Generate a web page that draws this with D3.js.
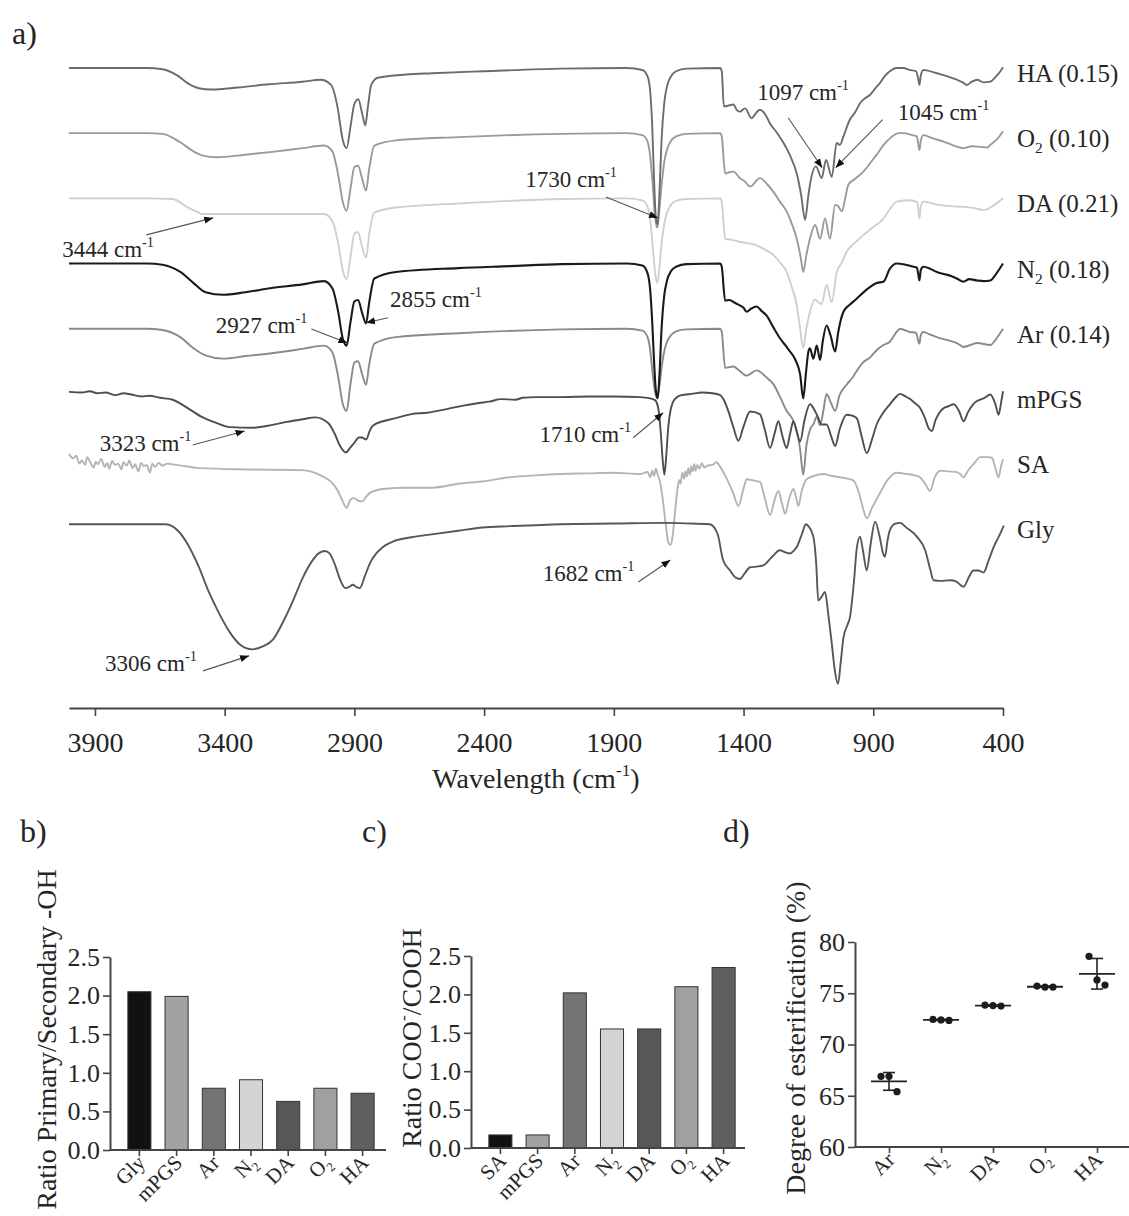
<!DOCTYPE html>
<html>
<head>
<meta charset="utf-8">
<script src="https://cdn.jsdelivr.net/npm/d3@7"></script>
<style>
  body { margin: 0; background: #fff; }
  svg { display: block; font-family: "Liberation Serif", "Times New Roman", serif; }
</style>
</head>
<body>
<svg id="fig" width="1129" height="1216"></svg>
<script>
// ---------------- FTIR spectra: [wavenumber (cm-1), transmittance change (a.u.)] ----------------
const spectrumNames = ["HA", "O2", "DA", "N2", "Ar", "mPGS", "SA", "Gly"];
const spectrumTags  = ["(0.15)", "(0.10)", "(0.21)", "(0.18)", "(0.14)", "", "", ""];
const stackOffsets  = [70, 60, 50, 40, 30, 20, 10, 0];

const haSpectrum = [[4000,0],[3700,0],[3640,-0.2],[3580,-1.2],[3540,-2.4],[3500,-3.1],[3450,-3.3],[3350,-3.0],[3230,-2.5],[3100,-2.1],[3030,-1.8],[2990,-2.6],[2965,-6],[2945,-11],[2930,-12.3],[2915,-9],[2900,-5.5],[2885,-4.8],[2870,-7],[2858,-8.8],[2848,-6],[2835,-2.6],[2810,-1.5],[2700,-1.0],[2600,-0.8],[2400,-0.5],[2100,-0.1],[1850,0],[1790,-0.3],[1770,-1.3],[1760,-3.5],[1752,-9],[1745,-17],[1738,-23],[1731,-24],[1724,-19],[1716,-11],[1706,-5.5],[1695,-2.8],[1680,-1.3],[1660,-0.5],[1620,-0.1],[1490,0],[1484,-0.5],[1476,-5.9],[1460,-5.8],[1439,-5.6],[1425,-6.5],[1414,-6.7],[1394,-6.2],[1369,-7.7],[1350,-6.8],[1337,-6.4],[1315,-7.2],[1298,-8.5],[1270,-10],[1246,-11.5],[1220,-13.5],[1195,-16.2],[1178,-19.5],[1163,-23.3],[1150,-19.5],[1141,-17.2],[1121,-15.1],[1099,-16.9],[1082,-14.1],[1060,-16.7],[1041,-11.5],[1028,-11.8],[1015,-10.5],[990,-7.9],[970,-6.8],[951,-5.4],[930,-4.6],[912,-4.1],[890,-3],[874,-2.3],[855,-1.2],[836,-0.5],[810,0],[784,0],[760,-0.3],[735,-0.5],[726,-1.8],[722,-2.6],[717,-1.2],[707,-0.3],[690,-0.4],[655,-0.8],[620,-1.2],[578,-1.8],[555,-2.2],[539,-2.6],[520,-2.1],[500,-1.8],[475,-2.2],[449,-2.1],[425,-1.2],[410,-0.5],[400,0.1]];

const o2Spectrum = [[4000,0],[3700,0],[3640,-0.1],[3571,-1.4],[3520,-2.8],[3488,-3.4],[3432,-3.7],[3320,-3.3],[3225,-2.9],[3100,-2.3],[3017,-1.9],[2985,-2.8],[2962,-6.5],[2945,-10.5],[2930,-11.9],[2915,-8.5],[2900,-5.2],[2886,-5],[2870,-7],[2855,-8.8],[2843,-5.5],[2823,-1.9],[2740,-1.1],[2500,-0.6],[2100,-0.1],[1850,0],[1790,-0.3],[1770,-1.3],[1760,-3.5],[1750,-8],[1742,-12.5],[1733,-14.5],[1725,-12],[1716,-8],[1706,-4.5],[1695,-2.5],[1680,-1.2],[1660,-0.5],[1620,-0.1],[1490,0],[1484,-0.5],[1471,-6.2],[1455,-6],[1439,-5.9],[1414,-6.9],[1395,-7.4],[1375,-8.2],[1337,-6.9],[1310,-7.8],[1285,-9],[1260,-10.5],[1234,-12],[1215,-13.8],[1195,-16.2],[1180,-19],[1170,-21.3],[1157,-18.5],[1144,-16.2],[1124,-14.1],[1105,-16.2],[1086,-13.1],[1067,-16.2],[1047,-11],[1035,-11.2],[1022,-12],[996,-7.9],[970,-7],[938,-5.9],[910,-4.5],[887,-3.3],[860,-1.8],[836,-0.8],[800,0],[784,0],[750,-0.3],[732,-0.5],[726,-1.8],[722,-2.6],[717,-1.2],[707,-0.3],[670,-0.8],[629,-1.3],[590,-1.9],[552,-2.3],[520,-2.0],[488,-2.1],[460,-2.2],[449,-1.8],[420,-0.8],[400,0.3]];

const daSpectrum = [[4000,0],[3700,0],[3600,-0.1],[3543,-1.4],[3500,-2.2],[3488,-2.4],[3300,-2.4],[3100,-2.4],[3017,-2.4],[2985,-3.5],[2962,-7],[2945,-11],[2930,-12.4],[2915,-9],[2900,-5.4],[2886,-5.2],[2870,-7.5],[2855,-9.1],[2843,-5.5],[2823,-2.2],[2740,-1.4],[2500,-0.8],[2100,-0.1],[1850,0],[1790,-0.3],[1770,-1.3],[1760,-3.2],[1750,-7.5],[1742,-11],[1733,-13],[1725,-11],[1716,-7],[1706,-4],[1695,-2.2],[1680,-1],[1660,-0.4],[1620,-0.1],[1490,0],[1484,-0.5],[1471,-6.2],[1440,-6.4],[1414,-6.7],[1380,-6.9],[1350,-7.2],[1320,-7.8],[1285,-8.7],[1260,-9.8],[1234,-11.3],[1215,-13.5],[1195,-16.4],[1182,-20],[1170,-23],[1158,-20],[1144,-17.4],[1125,-15.5],[1112,-15.9],[1099,-16.2],[1080,-13.3],[1060,-15.9],[1041,-11.3],[1020,-9.8],[1003,-8.2],[970,-6.8],[938,-5.6],[900,-4.4],[861,-3.1],[835,-1.6],[810,-0.5],[758,-0.3],[730,-0.6],[726,-1.8],[722,-3.1],[717,-1.2],[707,-0.5],[650,-1],[600,-1.2],[552,-1.3],[510,-1.5],[475,-1.8],[440,-1.2],[400,0]];

const n2Spectrum = [[4000,0],[3700,0],[3640,-0.2],[3571,-1.3],[3520,-3],[3474,-4.4],[3405,-4.8],[3320,-4.4],[3225,-3.8],[3100,-3.2],[3017,-2.7],[2985,-3.8],[2962,-7.5],[2945,-11.5],[2930,-12.6],[2915,-9],[2900,-5.8],[2886,-5.6],[2870,-7.6],[2855,-9.2],[2843,-6],[2823,-2.3],[2740,-1.3],[2500,-0.7],[2300,-0.4],[2100,-0.1],[1850,0],[1790,-0.3],[1770,-1.5],[1760,-4],[1752,-9],[1745,-15],[1738,-19.5],[1731,-20.7],[1724,-17],[1716,-10],[1706,-5],[1695,-2.6],[1680,-1.2],[1660,-0.5],[1620,-0.1],[1490,0],[1484,-0.5],[1471,-5.7],[1455,-5.6],[1439,-5.9],[1420,-6.3],[1400,-6.8],[1388,-7.4],[1370,-6.9],[1350,-6.6],[1330,-7.3],[1311,-8],[1285,-9.8],[1259,-11.5],[1234,-12.8],[1221,-13.5],[1200,-14.8],[1182,-17],[1170,-20.7],[1160,-17],[1150,-13.5],[1144,-13],[1131,-14.6],[1118,-12.6],[1105,-14.8],[1095,-12],[1080,-9.5],[1065,-11],[1047,-13.5],[1035,-10.5],[1015,-7.4],[990,-6.3],[964,-5.4],[940,-4.5],[912,-3.6],[887,-3],[861,-2.8],[836,-0.8],[810,0],[784,-0.1],[745,-0.5],[732,-0.6],[726,-1.8],[722,-2.6],[717,-1.0],[707,-0.5],[681,-0.8],[655,-1.3],[629,-1.6],[600,-1.9],[578,-2.3],[552,-2.8],[530,-2.4],[500,-2.6],[475,-2.7],[449,-2.6],[425,-1.5],[400,0]];

const arSpectrum = [[4000,0],[3700,0],[3640,-0.2],[3571,-1.3],[3520,-3],[3474,-4.1],[3405,-4.6],[3320,-4.2],[3225,-3.8],[3100,-3.1],[3017,-2.6],[2985,-3.6],[2962,-7.5],[2945,-11.5],[2930,-12.6],[2915,-8.5],[2900,-5.2],[2886,-5],[2870,-7],[2855,-8.6],[2843,-5.5],[2823,-2.3],[2740,-1.3],[2500,-0.7],[2100,-0.1],[1850,0],[1790,-0.3],[1770,-1.3],[1760,-3.2],[1750,-7],[1742,-9.5],[1733,-10.6],[1725,-9],[1716,-6],[1706,-3.5],[1695,-2],[1680,-1],[1660,-0.4],[1620,-0.1],[1490,0],[1484,-0.5],[1471,-6],[1439,-5.8],[1420,-6.3],[1388,-7.2],[1350,-6.4],[1311,-7.5],[1285,-8.5],[1259,-10.5],[1234,-12.6],[1210,-14],[1195,-15.7],[1182,-18.5],[1170,-22.4],[1158,-18],[1144,-15.5],[1130,-14.6],[1118,-13.5],[1105,-14.8],[1092,-12.5],[1080,-10],[1065,-11.2],[1047,-12.6],[1030,-10.2],[1003,-8.6],[980,-7.5],[964,-6.5],[940,-5.2],[912,-4.4],[887,-3.3],[861,-2.5],[836,-2],[810,-0.5],[797,0],[760,-0.5],[735,-0.6],[726,-2],[722,-2.3],[717,-1],[707,-0.5],[681,-0.9],[655,-1.3],[610,-1.8],[578,-2.2],[552,-2.8],[525,-2.5],[500,-2.2],[449,-2.5],[420,-1.2],[400,0]];

const mpgsSpectrum = [[4000,0.3],[3950,0.2],[3920,0.4],[3890,0.1],[3860,0.2],[3820,-0.2],[3790,0.1],[3760,-0.1],[3720,-0.4],[3690,-0.3],[3650,-0.6],[3600,-0.9],[3550,-2],[3490,-3.5],[3430,-4.5],[3380,-5.1],[3295,-5.2],[3220,-4.8],[3160,-4.3],[3100,-3.9],[3050,-3.6],[3000,-4.5],[2975,-6.2],[2955,-8],[2933,-9],[2915,-8.2],[2900,-7.5],[2883,-6.7],[2870,-6.7],[2855,-7],[2840,-5.6],[2829,-4.9],[2790,-4.2],[2748,-3.8],[2680,-3.1],[2620,-2.9],[2540,-2.3],[2480,-1.8],[2420,-1.4],[2380,-1.2],[2335,-0.8],[2280,-0.9],[2250,-0.6],[2200,-0.5],[2104,-0.5],[2000,-0.4],[1900,-0.4],[1800,-0.5],[1760,-0.7],[1740,-1],[1728,-2.4],[1720,-5.5],[1712,-10],[1705,-12.4],[1698,-9.5],[1690,-5],[1680,-2.2],[1665,-0.8],[1640,-0.2],[1600,0],[1560,0.2],[1520,0.1],[1490,-0.2],[1478,-0.8],[1460,-2.5],[1440,-5],[1420,-7.2],[1400,-5],[1375,-2.7],[1337,-3.1],[1318,-5.5],[1298,-8.3],[1280,-6],[1266,-4.2],[1250,-6.5],[1234,-8.3],[1220,-6],[1208,-4.2],[1195,-5.8],[1182,-7.3],[1165,-4],[1144,-1.6],[1125,-2.6],[1112,-3.7],[1099,-4.7],[1080,-4.7],[1060,-6.8],[1047,-8],[1030,-5.5],[1003,-3.2],[985,-3.3],[964,-3.7],[945,-6.5],[925,-9.1],[905,-7],[887,-4.7],[860,-2.8],[836,-1.6],[815,-0.6],[797,0],[775,-0.4],[758,-0.8],[740,-1.4],[719,-2.2],[700,-3.8],[685,-5.4],[674,-5.7],[660,-4],[640,-2.6],[629,-2.2],[610,-1.9],[590,-1.6],[570,-2.6],[552,-4.2],[535,-2.8],[515,-1.6],[500,-1.1],[470,-0.6],[449,-0.1],[430,-1.5],[417,-3.2],[408,-1.5],[400,0.4]];

const saSpectrum = [[4000,0.8],[3985,0.1],[3972,0.5],[3960,-0.7],[3950,-0.2],[3938,-0.9],[3930,0.3],[3918,-0.5],[3905,-1.3],[3897,-0.4],[3888,-0.8],[3876,0.0],[3862,-1.2],[3853,-0.6],[3845,-1.5],[3834,-0.3],[3822,-0.9],[3810,-0.7],[3798,-1.6],[3790,-0.5],[3777,-1.0],[3768,-0.2],[3755,-1.4],[3745,-0.8],[3733,-1.9],[3722,-0.6],[3712,-1.1],[3700,-0.9],[3688,-2.1],[3679,-0.7],[3668,-1.2],[3655,-0.6],[3640,-1.0],[3620,-0.7],[3590,-0.9],[3550,-1.1],[3500,-1.4],[3300,-1.6],[3100,-1.7],[3030,-2.5],[2990,-3.5],[2965,-4.8],[2945,-6.5],[2930,-7.5],[2915,-6.2],[2900,-6],[2885,-6.4],[2870,-6.5],[2855,-5.8],[2840,-5.2],[2790,-4.6],[2700,-4.4],[2600,-4.4],[2500,-3.8],[2400,-3.4],[2300,-2.8],[2200,-2.5],[2104,-2.3],[2000,-2.2],[1900,-2.1],[1800,-2.3],[1770,-2.0],[1760,-2.8],[1752,-1.8],[1745,-2.6],[1738,-1.5],[1730,-2.5],[1722,-3.5],[1712,-6],[1700,-10],[1690,-12.8],[1682,-13.2],[1674,-12],[1665,-8.5],[1656,-5],[1648,-3.2],[1643,-3.8],[1636,-2.1],[1630,-3.0],[1624,-1.9],[1619,-2.7],[1613,-1.4],[1607,-2.4],[1601,-1.1],[1596,-1.9],[1590,-0.8],[1585,-1.8],[1578,-0.9],[1570,-1.5],[1561,-0.6],[1552,-1.3],[1540,-1.0],[1520,-0.9],[1504,-0.5],[1490,-1.2],[1465,-3],[1440,-5.2],[1420,-7.2],[1400,-4.5],[1388,-3.1],[1360,-3.3],[1337,-3.5],[1318,-6],[1298,-8.6],[1280,-6.2],[1266,-4.9],[1252,-6.8],[1240,-8.4],[1225,-6.2],[1208,-4.6],[1198,-5.8],[1189,-7.2],[1175,-4.8],[1157,-3.1],[1130,-2.6],[1092,-2.3],[1060,-2.6],[1028,-2.8],[1000,-3],[977,-3.3],[955,-5.2],[940,-7.5],[925,-9.1],[905,-7.5],[874,-5.2],[850,-3.5],[810,-2.1],[770,-2.3],[740,-2.5],[720,-2.8],[700,-3.8],[681,-4.9],[665,-3],[642,-1.8],[610,-1.9],[578,-2],[565,-2.3],[552,-2.8],[535,-1.8],[510,-0.6],[488,0.3],[460,0.3],[443,0.2],[432,-1],[417,-2.8],[408,-1.2],[400,0]];

const glySpectrum = [[4000,0],[3800,0],[3700,0],[3627,0],[3580,-1],[3542,-3.1],[3500,-6.5],[3461,-10.4],[3420,-13.8],[3380,-16.6],[3340,-18.5],[3295,-19.2],[3255,-18.8],[3214,-17.7],[3175,-15],[3133,-11.4],[3100,-8.3],[3064,-5.7],[3035,-4.4],[3014,-4.1],[2995,-4.5],[2975,-6.2],[2955,-8.5],[2935,-9.8],[2920,-9.6],[2906,-9.3],[2893,-9.6],[2879,-9.8],[2860,-8],[2840,-6],[2829,-5.2],[2790,-3.5],[2748,-2.6],[2680,-2],[2609,-1.6],[2500,-1],[2405,-0.5],[2300,-0.3],[2104,0],[1900,0.1],[1700,0.2],[1600,0.1],[1530,0],[1500,-1.5],[1479,-5.5],[1452,-7.1],[1430,-8.2],[1414,-8.4],[1395,-7.5],[1375,-6.6],[1350,-6.5],[1324,-6.3],[1290,-5],[1260,-4],[1240,-4.3],[1221,-4.5],[1205,-4],[1195,-3.5],[1175,-1.5],[1160,0],[1150,-0.3],[1131,-1.9],[1120,-6],[1112,-11.7],[1100,-11.2],[1086,-10.4],[1073,-14],[1060,-18.3],[1048,-22.5],[1036,-24.5],[1025,-21],[1015,-17.4],[1000,-15.5],[990,-14.3],[975,-9],[963,-3.5],[951,-1.9],[940,-4],[925,-7.1],[910,-3],[893,0.4],[875,-2],[862,-4.5],[855,-5],[845,-2.5],[836,-0.9],[815,0.1],[797,0.2],[770,-0.6],[732,-1.9],[700,-4],[680,-7],[668,-8.6],[640,-8.7],[604,-8.6],[580,-8.8],[552,-9.6],[530,-8],[514,-7.1],[495,-7.1],[475,-7.4],[455,-5.5],[436,-3.5],[415,-1.8],[397,-0.2]];

const spectra = [haSpectrum, o2Spectrum, daSpectrum, n2Spectrum, arSpectrum, mpgsSpectrum, saSpectrum, glySpectrum];
const wavenumberTicks = [3900, 3400, 2900, 2400, 1900, 1400, 900, 400];

// ---------------- bar / dot panels ----------------
const ohCategories  = ["Gly", "mPGS", "Ar", "N2", "DA", "O2", "HA"];
const ohRatios      = [2.05, 1.99, 0.80, 0.91, 0.63, 0.80, 0.735];
const cooCategories = ["SA", "mPGS", "Ar", "N2", "DA", "O2", "HA"];
const cooRatios     = [0.17, 0.17, 2.02, 1.55, 1.55, 2.10, 2.35];
const ratioTicks    = [0, 0.5, 1.0, 1.5, 2.0, 2.5];
const esterCategories = ["Ar", "N2", "DA", "O2", "HA"];
const esterReplicates = [[66.9, 66.9, 65.4], [72.45, 72.4, 72.35], [73.85, 73.8, 73.75], [75.7, 75.6, 75.6], [78.6, 76.3, 75.8]];
const esterTicks = [60, 65, 70, 75, 80];

// ---------------- styling ----------------
const serif = "Liberation Serif, Times New Roman, serif";
const ink = "#262626";
const traceColor = { HA: "#6c6c6c", O2: "#9a9a9a", DA: "#cfcfcf", N2: "#1a1a1a", Ar: "#8a8a8a", mPGS: "#4e4e4e", SA: "#b4b4b4", Gly: "#575757" };
const barColor = { Gly: "#111", SA: "#111", mPGS: "#a2a2a2", Ar: "#747474", N2: "#d4d4d4", DA: "#575757", O2: "#a0a0a0", HA: "#5f5f5f" };
const drawOrder = ["DA", "SA", "O2", "Ar", "HA", "Gly", "mPGS", "N2"];

const svg = d3.select("#fig");

// text with sub/superscripts: parts = [{t, sub, sup}]
function rich(sel, parts, fs) {
  let shift = 0;
  parts.forEach(p => {
    const target = p.sub ? 0.25 * fs : p.sup ? -0.42 * fs : 0;
    const ts = sel.append("tspan").text(p.t).attr("dy", target - shift);
    if (p.sub || p.sup) ts.attr("font-size", 0.62 * fs);
    shift = target;
  });
}
function nameParts(n) {
  if (n === "O2" || n === "N2") return [{ t: n[0] }, { t: "2", sub: true }];
  return [{ t: n }];
}
const cm1 = [{ t: " cm" }, { t: "-1", sup: true }];

function styleAxis(g, fs) {
  g.attr("font-family", serif);
  g.select(".domain").attr("stroke", "#444").attr("stroke-width", 2);
  g.selectAll(".tick line").attr("stroke", "#444").attr("stroke-width", 1.6);
  g.selectAll(".tick text").attr("fill", ink).attr("font-size", fs).attr("font-family", serif);
}

// ================= panel a: stacked FTIR spectra =================
const x = d3.scaleLinear().domain([4000, 400]).range([69, 1003]);
const y = d3.scaleLinear().domain([-28.2, 70]).range([708, 68]);

const line = d3.line()
  .x(d => x(d[0]))
  .y(d => y(d[1]))
  .curve(d3.curveMonotoneX);

const traces = svg.append("g");
drawOrder.forEach(name => {
  const i = spectrumNames.indexOf(name);
  const pts = spectra[i].map(([wn, t]) => [wn, stackOffsets[i] + t]);
  traces.append("path")
    .attr("d", line(pts))
    .attr("fill", "none")
    .attr("stroke", traceColor[name])
    .attr("stroke-width", name === "N2" ? 2.1 : 1.9)
    .attr("stroke-linejoin", "round");
});

// series labels at right end
spectrumNames.forEach((name, i) => {
  const t = svg.append("text")
    .attr("x", 1017).attr("y", y(stackOffsets[i]) + 14)
    .attr("font-size", 25).attr("fill", ink);
  rich(t, nameParts(name).concat(spectrumTags[i] ? [{ t: " " + spectrumTags[i] }] : []), 25);
});

// x axis
const gx = svg.append("g").attr("transform", "translate(0,708)")
  .call(d3.axisBottom(x).tickValues(wavenumberTicks).tickFormat(d3.format("d"))
    .tickSize(8).tickSizeOuter(0).tickPadding(16));
styleAxis(gx, 28);
const xt = svg.append("text").attr("x", 536).attr("y", 788).attr("text-anchor", "middle")
  .attr("font-size", 28).attr("fill", ink);
rich(xt, [{ t: "Wavelength (cm" }, { t: "-1", sup: true }, { t: ")" }], 28);

// peak callouts: tip on the labelled wavenumber, label/tail offsets in px
const callouts = [
  { wn: 3444, level: 47.0, tail: [-67, 17],  text: [-151, 39], anchor: "start" },
  { wn: 2927, level: 27.8, tail: [-36, -14], text: [-40, -10], anchor: "end" },
  { wn: 2855, level: 30.9, tail: [22, -5],   text: [24, -16],  anchor: "start" },
  { wn: 1730, level: 47.0, tail: [-52, -21], text: [-41, -31], anchor: "end" },
  { wn: 1097, level: 54.7, tail: [-34, -50], text: [-65, -68], anchor: "start" },
  { wn: 1045, level: 54.7, tail: [47, -48],  text: [62, -48],  anchor: "start" },
  { wn: 3323, level: 14.3, tail: [-52, 14],  text: [-145, 20], anchor: "start" },
  { wn: 1710, level: 17.1, tail: [-30, 25],  text: [-32, 29],  anchor: "end" },
  { wn: 1682, level: -5.5, tail: [-32, 22],  text: [-36, 21],  anchor: "end" },
  { wn: 3306, level: -20.2, tail: [-46, 15], text: [-144, 15], anchor: "start" }
];
svg.append("defs").append("marker")
  .attr("id", "tip").attr("viewBox", "0 0 10 10").attr("refX", 10).attr("refY", 5)
  .attr("markerWidth", 9).attr("markerHeight", 9).attr("markerUnits", "userSpaceOnUse")
  .attr("orient", "auto")
  .append("path").attr("d", "M0,1 L10,5 L0,9 Z").attr("fill", "#111");

callouts.forEach(c => {
  const tx = x(c.wn), ty = y(c.level);
  svg.append("line")
    .attr("x1", tx + c.tail[0]).attr("y1", ty + c.tail[1])
    .attr("x2", tx).attr("y2", ty)
    .attr("stroke", "#555").attr("stroke-width", 1.1)
    .attr("marker-end", "url(#tip)");
  const t = svg.append("text")
    .attr("x", tx + c.text[0]).attr("y", ty + c.text[1])
    .attr("text-anchor", c.anchor).attr("font-size", 23).attr("fill", ink);
  rich(t, [{ t: String(c.wn) }].concat(cm1), 23);
});

// panel letters
[["a)", 12, 44], ["b)", 20, 842], ["c)", 362, 842], ["d)", 723, 842]].forEach(([s, px, py]) => {
  svg.append("text").attr("x", px).attr("y", py).attr("font-size", 32).attr("fill", ink).text(s);
});

// ================= panels b & c: ratio bar charts =================
function barPanel(cats, vals, x0, x1, axisEnd, yTop, yBottom, titleParts, titleX) {
  const xs = d3.scaleBand().domain(cats).range([x0, x1]).paddingInner(0.38).paddingOuter(0.48);
  const ys = d3.scaleLinear().domain([0, 2.5]).range([yBottom, yTop]);
  const g = svg.append("g");
  g.selectAll("rect").data(cats).join("rect")
    .attr("x", d => xs(d)).attr("width", xs.bandwidth())
    .attr("y", (d, i) => ys(vals[i])).attr("height", (d, i) => ys(0) - ys(vals[i]))
    .attr("fill", d => barColor[d]).attr("stroke", "#333").attr("stroke-width", 1);
  const gy = g.append("g").attr("transform", `translate(${x0},0)`)
    .call(d3.axisLeft(ys).tickValues(ratioTicks).tickFormat(d3.format(".1f")).tickSize(7).tickSizeOuter(0).tickPadding(3));
  styleAxis(gy, 26);
  const gxx = g.append("g").attr("transform", `translate(0,${yBottom})`)
    .call(d3.axisBottom(xs).tickSize(6).tickSizeOuter(0).tickFormat(""));
  styleAxis(gxx, 20);
  gxx.select(".domain").attr("d", `M${x0},0H${axisEnd}`);
  cats.forEach(c => {
    const cx = xs(c) + xs.bandwidth() / 2;
    const t = g.append("text")
      .attr("transform", `translate(${cx + 7},${yBottom + 14}) rotate(-45)`)
      .attr("text-anchor", "end").attr("font-size", 21).attr("fill", ink);
    rich(t, nameParts(c), 21);
  });
  const tt = g.append("text")
    .attr("transform", `translate(${titleX},${(yTop + yBottom) / 2 - 14}) rotate(-90)`)
    .attr("text-anchor", "middle").attr("font-size", 28).attr("fill", ink);
  rich(tt, titleParts, 28);
}
barPanel(ohCategories, ohRatios, 110, 392, 386, 957, 1150,
  [{ t: "Ratio Primary/Secondary -OH" }], 56);
barPanel(cooCategories, cooRatios, 471, 753, 745, 956, 1148,
  [{ t: "Ratio COO" }, { t: "-", sup: true }, { t: "/COOH" }], 421);

// ================= panel d: degree of esterification =================
const xd = d3.scalePoint().domain(esterCategories).range([889, 1097]);
const yd = d3.scaleLinear().domain([60, 80]).range([1147, 942]);
const gd = svg.append("g");
const gdy = gd.append("g").attr("transform", "translate(855,0)")
  .call(d3.axisLeft(yd).tickValues(esterTicks).tickSize(7).tickSizeOuter(0).tickPadding(3));
styleAxis(gdy, 26);
const gdx = gd.append("g").attr("transform", "translate(0,1147)")
  .call(d3.axisBottom(xd).tickSize(6).tickSizeOuter(0).tickFormat(""));
styleAxis(gdx, 20);
gdx.select(".domain").attr("d", "M855,0H1129");

esterCategories.forEach((c, i) => {
  const vals = esterReplicates[i];
  const mean = d3.mean(vals), sd = d3.deviation(vals);
  const cx = xd(c);
  gd.append("line").attr("x1", cx).attr("x2", cx).attr("y1", yd(mean - sd)).attr("y2", yd(mean + sd))
    .attr("stroke", "#222").attr("stroke-width", 1.6);
  [mean - sd, mean + sd].forEach(v => gd.append("line")
    .attr("x1", cx - 6).attr("x2", cx + 6).attr("y1", yd(v)).attr("y2", yd(v))
    .attr("stroke", "#222").attr("stroke-width", 1.6));
  gd.append("line").attr("x1", cx - 18).attr("x2", cx + 18).attr("y1", yd(mean)).attr("y2", yd(mean))
    .attr("stroke", "#222").attr("stroke-width", 1.8);
  vals.forEach((v, k) => gd.append("circle")
    .attr("cx", cx + (k - 1) * 8).attr("cy", yd(v)).attr("r", 3.6).attr("fill", "#1c1c1c"));
  const t = gd.append("text")
    .attr("transform", `translate(${cx + 7},${1147 + 14}) rotate(-45)`)
    .attr("text-anchor", "end").attr("font-size", 21).attr("fill", ink);
  rich(t, nameParts(c), 21);
});
gd.append("text")
  .attr("transform", `translate(805,1038) rotate(-90)`)
  .attr("text-anchor", "middle").attr("font-size", 28).attr("fill", ink)
  .text("Degree of esterification (%)");
</script>
</body>
</html>
